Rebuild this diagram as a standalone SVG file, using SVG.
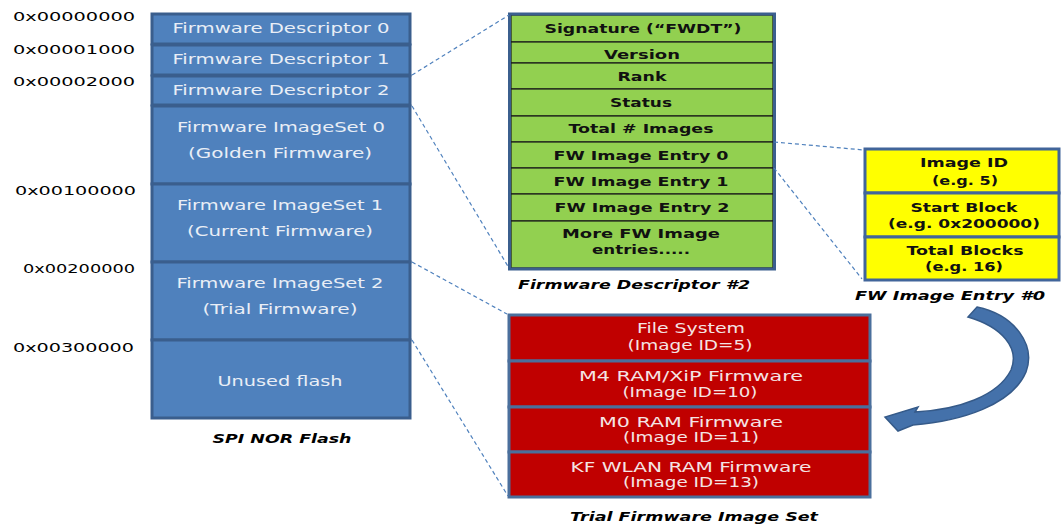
<svg xmlns="http://www.w3.org/2000/svg" width="1061" height="525" viewBox="0 0 1061 525">
<style>
.addr{font-family:"DejaVu Sans",sans-serif;font-size:12.5px;fill:#000}
.bt{font-family:"DejaVu Sans",sans-serif;font-size:14px;fill:#E9EEF6;text-anchor:middle}
.gt{font-family:"DejaVu Sans",sans-serif;font-size:13px;font-weight:bold;fill:#111;text-anchor:middle}
.rt{font-family:"DejaVu Sans",sans-serif;font-size:13.5px;fill:#F4E4E4;text-anchor:middle}
.cap{font-family:"DejaVu Sans",sans-serif;font-size:13px;font-weight:bold;font-style:italic;fill:#000;text-anchor:middle}
.brow{fill:#4F81BD;stroke:#3A5E8D;stroke-width:3}
.grow{fill:#92D050;stroke:#1a1a1a;stroke-width:1.2}
.yrow{fill:#FFFF00;stroke:#41659A;stroke-width:3}
.rrow{fill:#C00000;stroke:#4A6F9C;stroke-width:3}
.outer{fill:none;stroke:#3B5F8E;stroke-width:3}
.dash{fill:none;stroke:#4F81BD;stroke-width:1.2;stroke-dasharray:4 3}
</style>

<g id="addresses">
<text class="addr" x="13" y="21" textLength="122" lengthAdjust="spacingAndGlyphs">0x00000000</text>
<text class="addr" x="13" y="54" textLength="122" lengthAdjust="spacingAndGlyphs">0x00001000</text>
<text class="addr" x="13" y="86" textLength="122" lengthAdjust="spacingAndGlyphs">0x00002000</text>
<text class="addr" x="15" y="195" textLength="121" lengthAdjust="spacingAndGlyphs">0x00100000</text>
<text class="addr" x="23" y="273" textLength="112" lengthAdjust="spacingAndGlyphs">0x00200000</text>
<text class="addr" x="13" y="352" textLength="121" lengthAdjust="spacingAndGlyphs">0x00300000</text>
</g>

<g id="spi-nor-flash">
<rect class="brow" x="152" y="14" width="258" height="30"/>
<rect class="brow" x="152" y="45" width="258" height="30"/>
<rect class="brow" x="152" y="76" width="258" height="29"/>
<rect class="brow" x="152" y="106" width="258" height="78"/>
<rect class="brow" x="152" y="184" width="258" height="78"/>
<rect class="brow" x="152" y="262" width="258" height="78"/>
<rect class="brow" x="152" y="340" width="258" height="78"/>
<text class="bt" x="281" y="33" textLength="217" lengthAdjust="spacingAndGlyphs">Firmware Descriptor 0</text>
<text class="bt" x="281" y="64" textLength="217" lengthAdjust="spacingAndGlyphs">Firmware Descriptor 1</text>
<text class="bt" x="281" y="95" textLength="217" lengthAdjust="spacingAndGlyphs">Firmware Descriptor 2</text>
<text class="bt" x="281" y="132" textLength="208" lengthAdjust="spacingAndGlyphs">Firmware ImageSet 0</text>
<text class="bt" x="280" y="158" textLength="184" lengthAdjust="spacingAndGlyphs">(Golden Firmware)</text>
<text class="bt" x="280" y="210" textLength="206" lengthAdjust="spacingAndGlyphs">Firmware ImageSet 1</text>
<text class="bt" x="280" y="236" textLength="186" lengthAdjust="spacingAndGlyphs">(Current Firmware)</text>
<text class="bt" x="280" y="288" textLength="207" lengthAdjust="spacingAndGlyphs">Firmware ImageSet 2</text>
<text class="bt" x="280" y="314" textLength="155" lengthAdjust="spacingAndGlyphs">(Trial Firmware)</text>
<text class="bt" x="280" y="386" textLength="125" lengthAdjust="spacingAndGlyphs">Unused flash</text>
<text class="cap" x="282" y="443" textLength="139" lengthAdjust="spacingAndGlyphs">SPI NOR Flash</text>
</g>

<g id="firmware-descriptor-2">
<rect class="grow" x="511" y="15" width="262" height="27"/>
<rect class="grow" x="511" y="42" width="262" height="21"/>
<rect class="grow" x="511" y="63" width="262" height="26"/>
<rect class="grow" x="511" y="89" width="262" height="27"/>
<rect class="grow" x="511" y="116" width="262" height="26"/>
<rect class="grow" x="511" y="142" width="262" height="26"/>
<rect class="grow" x="511" y="168" width="262" height="26"/>
<rect class="grow" x="511" y="194" width="262" height="27"/>
<rect class="grow" x="511" y="221" width="262" height="47"/>
<rect class="outer" x="509.5" y="14" width="265" height="255"/>
<text class="gt" x="643" y="33" textLength="197" lengthAdjust="spacingAndGlyphs">Signature (“FWDT”)</text>
<text class="gt" x="642" y="59" textLength="76" lengthAdjust="spacingAndGlyphs">Version</text>
<text class="gt" x="642" y="81" textLength="49" lengthAdjust="spacingAndGlyphs">Rank</text>
<text class="gt" x="641" y="107" textLength="62" lengthAdjust="spacingAndGlyphs">Status</text>
<text class="gt" x="641" y="133" textLength="145" lengthAdjust="spacingAndGlyphs">Total # Images</text>
<text class="gt" x="641" y="160" textLength="175" lengthAdjust="spacingAndGlyphs">FW Image Entry 0</text>
<text class="gt" x="641" y="186" textLength="175" lengthAdjust="spacingAndGlyphs">FW Image Entry 1</text>
<text class="gt" x="642" y="212" textLength="175" lengthAdjust="spacingAndGlyphs">FW Image Entry 2</text>
<text class="gt" x="641" y="238" textLength="158" lengthAdjust="spacingAndGlyphs">More FW Image</text>
<text class="gt" x="641" y="254" textLength="98" lengthAdjust="spacingAndGlyphs">entries.....</text>
<text class="cap" x="634" y="289" textLength="232" lengthAdjust="spacingAndGlyphs">Firmware Descriptor #2</text>
</g>

<g id="fw-image-entry-0">
<rect class="yrow" x="865" y="149" width="194" height="44"/>
<rect class="yrow" x="865" y="193" width="194" height="44"/>
<rect class="yrow" x="865" y="237" width="194" height="43"/>
<text class="gt" x="964" y="167" textLength="88" lengthAdjust="spacingAndGlyphs">Image ID</text>
<text class="gt" x="965" y="185" textLength="66" lengthAdjust="spacingAndGlyphs">(e.g. 5)</text>
<text class="gt" x="964" y="212" textLength="107" lengthAdjust="spacingAndGlyphs">Start Block</text>
<text class="gt" x="964" y="228" textLength="152" lengthAdjust="spacingAndGlyphs">(e.g. 0x200000)</text>
<text class="gt" x="965" y="255" textLength="117" lengthAdjust="spacingAndGlyphs">Total Blocks</text>
<text class="gt" x="964" y="271" textLength="78" lengthAdjust="spacingAndGlyphs">(e.g. 16)</text>
<text class="cap" x="950" y="300" textLength="190" lengthAdjust="spacingAndGlyphs">FW Image Entry #0</text>
</g>

<g id="trial-firmware-image-set">
<rect class="rrow" x="509" y="315" width="361" height="46"/>
<rect class="rrow" x="509" y="361" width="361" height="46"/>
<rect class="rrow" x="509" y="407" width="361" height="45"/>
<rect class="rrow" x="509" y="452" width="361" height="45"/>
<text class="rt" x="691" y="333" textLength="108" lengthAdjust="spacingAndGlyphs">File System</text>
<text class="rt" x="690" y="350" textLength="125" lengthAdjust="spacingAndGlyphs">(Image ID=5)</text>
<text class="rt" x="691" y="381" textLength="224" lengthAdjust="spacingAndGlyphs">M4 RAM/XiP Firmware</text>
<text class="rt" x="690" y="397" textLength="135" lengthAdjust="spacingAndGlyphs">(Image ID=10)</text>
<text class="rt" x="691" y="427" textLength="184" lengthAdjust="spacingAndGlyphs">M0 RAM Firmware</text>
<text class="rt" x="691" y="442" textLength="136" lengthAdjust="spacingAndGlyphs">(Image ID=11)</text>
<text class="rt" x="691" y="472" textLength="241" lengthAdjust="spacingAndGlyphs">KF WLAN RAM Firmware</text>
<text class="rt" x="691" y="487" textLength="136" lengthAdjust="spacingAndGlyphs">(Image ID=13)</text>
<text class="cap" x="694" y="521" textLength="248" lengthAdjust="spacingAndGlyphs">Trial Firmware Image Set</text>
</g>

<g id="connectors">
<line class="dash" x1="412" y1="75" x2="509" y2="15"/>
<line class="dash" x1="412" y1="106" x2="509" y2="268"/>
<line class="dash" x1="412" y1="262" x2="507" y2="314"/>
<line class="dash" x1="412" y1="340" x2="508" y2="496"/>
<line class="dash" x1="774" y1="142" x2="864" y2="150"/>
<line class="dash" x1="774" y1="168" x2="862" y2="279"/>
<path d="M 968 317 L 977 307 C 1015 315 1036 345 1026 372 C 1012 405 962 421 913 425 L 898 431 L 885 417 L 918 407 L 915 412 C 958 410 998 396 1011 370 C 1020 348 1002 327 968 317 Z" fill="#4471AA" stroke="#355A89" stroke-width="1.5"/>
</g>
</svg>
